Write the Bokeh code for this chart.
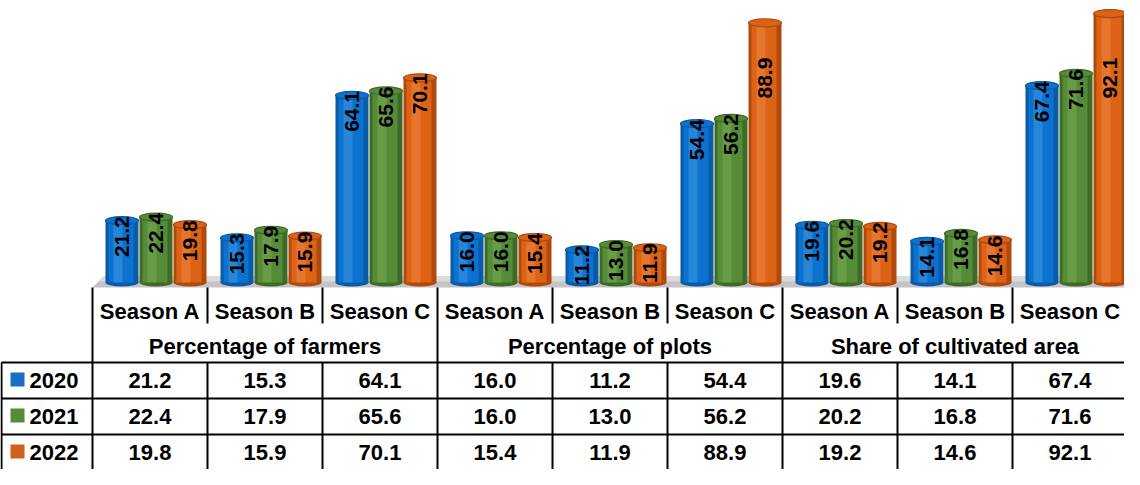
import numpy as np
from bokeh.plotting import figure
from bokeh.models import Range1d
from bokeh.embed import file_html
from bokeh.resources import INLINE
from bokeh.core.properties import value

# ---------------- data ----------------
groups = ["Percentage of farmers", "Percentage of plots", "Share of cultivated area"]
seasons = ["Season A", "Season B", "Season C"]
years = ["2020", "2021", "2022"]
v2020 = [21.2, 15.3, 64.1, 16.0, 11.2, 54.4, 19.6, 14.1, 67.4]
v2021 = [22.4, 17.9, 65.6, 16.0, 13.0, 56.2, 20.2, 16.8, 71.6]
v2022 = [19.8, 15.9, 70.1, 15.4, 11.9, 88.9, 19.2, 14.6, 92.1]
series = [v2020, v2021, v2022]

# colours: (dark edge, main, highlight, legend)
palette = [
    ("#0a5aa6", "#0b72cf", "#4a9fe6", "#1a6fc4"),
    ("#3d6b27", "#568c38", "#7fb05a", "#568c38"),
    ("#b04a0c", "#dc6216", "#f28d4a", "#d0601a"),
]

FONT = "Liberation Sans"

# ---------------- layout (figure pixels from top-left) ----------------
W, H = 1124, 469
BASE, PPU = 282.0, 2.92  # baseline (px from top) and pixels per unit


def Y(py):
    return (BASE - py) / PPU


X0, CW = 92.0, 115.0
GW = CW * 3
ncat = len(groups) * len(seasons)
centers = [X0 + CW * (i + 0.5) for i in range(ncat)]

p = figure(width=W, height=H, x_range=Range1d(0, W),
           y_range=Range1d(Y(H), Y(0)),
           output_backend="svg", toolbar_location=None,
           x_axis_type=None, y_axis_type=None, min_border=0,
           outline_line_color=None, background_fill_color="white",
           border_fill_color="white")
p.grid.visible = False

# floor
p.patch([92, 103, 1124, 1124], [Y(287), Y(276), Y(276), Y(287)],
        fill_color="#c4c4c4", line_color=None)
p.patch([97, 103, 1124, 1124], [Y(281), Y(276), Y(276), Y(281)],
        fill_color="#dadada", line_color=None)

EH = 8 / PPU
for j, vals in enumerate(series):
    dark, main, light, _ = palette[j]
    xs = [c + 6 + (j - 1) * 34 for c in centers]
    p.ellipse(x=xs, y=[0] * ncat, width=33, height=EH,
              fill_color=dark, line_color=None)
    p.vbar(x=xs, bottom=0, top=vals, width=33, fill_color=dark, line_color=None)
    p.vbar(x=[x - 1 for x in xs], bottom=0, top=vals, width=25,
           fill_color=main, line_color=None)
    p.vbar(x=[x - 4 for x in xs], bottom=0, top=vals, width=9,
           fill_color=light, fill_alpha=0.45, line_color=None)
    p.ellipse(x=xs, y=vals, width=33, height=EH,
              fill_color=main, line_color=dark, line_width=1.2)
    p.text(x=xs, y=[min(v + 1.5, 77) for v in vals],
           text=[f"{v:.1f}" for v in vals], angle=np.pi / 2,
           text_align="right", text_baseline="middle",
           text_font=value(FONT), text_font_size="21px",
           text_font_style="bold", text_color="black")

# ---------------- table ----------------
LW = 2
TOP, HDR, GRP, BOT = 287, 323, 362, 480
row_lines = [362, 398, 434]
p.segment(x0=[1] * 3, y0=[Y(r) for r in row_lines],
          x1=[W] * 3, y1=[Y(r) for r in row_lines],
          line_color="black", line_width=LW)
p.segment(x0=[1], y0=[Y(GRP)], x1=[1], y1=[Y(BOT)], line_color="black", line_width=LW)
bounds = [X0 + CW * k for k in range(ncat + 1)]
gx = [b for k, b in enumerate(bounds) if k % 3 == 0]
cx = [b for k, b in enumerate(bounds) if k % 3 != 0]
p.segment(x0=gx, y0=[Y(TOP)] * len(gx), x1=gx, y1=[Y(BOT)] * len(gx),
          line_color="black", line_width=LW)
p.segment(x0=cx, y0=[Y(TOP)] * len(cx), x1=cx, y1=[Y(HDR)] * len(cx),
          line_color="black", line_width=LW)
p.segment(x0=cx, y0=[Y(GRP)] * len(cx), x1=cx, y1=[Y(BOT)] * len(cx),
          line_color="black", line_width=LW)

txt = dict(text_font=value(FONT), text_font_size="22px", text_font_style="bold",
           text_color="black", text_baseline="middle")
p.text(x=centers, y=[Y(311)] * ncat, text=seasons * len(groups),
       text_align="center", **txt)
p.text(x=[X0 + GW * (k + 0.5) for k in range(len(groups))],
       y=[Y(346)] * len(groups), text=groups, text_align="center", **txt)

row_c = [380, 416, 452]
for j, vals in enumerate(series):
    p.text(x=centers, y=[Y(row_c[j])] * ncat, text=[f"{v:.1f}" for v in vals],
           text_align="center", **txt)
    p.rect(x=[17], y=[Y(row_c[j] - 1)], width=14, height=14 / PPU,
           fill_color=palette[j][3], line_color=None)
p.text(x=[29] * 3, y=[Y(r) for r in row_c], text=years, text_align="left", **txt)

open("out.html", "w").write(file_html(p, INLINE))
